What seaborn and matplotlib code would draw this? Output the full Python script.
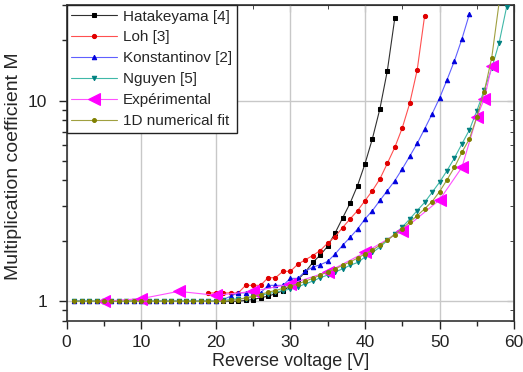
import numpy as np
import pandas as pd
import seaborn as sns
import matplotlib.pyplot as plt
from matplotlib.ticker import LogLocator, NullFormatter, FixedLocator, FixedFormatter

# Data
hatakeyama_v = list(range(1, 45))
hatakeyama_m = [1.0] * 23 + [1.01, 1.02, 1.04, 1.06, 1.09, 1.13, 1.19, 1.28, 1.40, 1.56,
                             1.70, 1.88, 2.19, 2.6, 3.08, 3.77, 4.84, 6.47, 9.1, 14.1, 25.8]

loh_v = list(range(19, 49))
loh_m = [1.10, 1.10, 1.10, 1.10, 1.10, 1.20, 1.20, 1.20, 1.31, 1.31, 1.41, 1.41, 1.53,
         1.61, 1.69, 1.79, 1.95, 2.1, 2.33, 2.57, 2.83, 3.17, 3.56, 4.07, 4.87, 5.85,
         7.31, 9.7, 14.2, 26.5]

konst_v = list(range(1, 55))
konst_m = [1.0] * 20 + [1.02, 1.06, 1.10, 1.10, 1.10, 1.10, 1.20, 1.20, 1.20, 1.30, 1.30,
                        1.41, 1.48, 1.52, 1.58, 1.72, 1.90, 2.08, 2.29, 2.57, 2.83, 3.18,
                        3.56, 3.99, 4.57, 5.28, 6.12, 7.23, 8.59, 10.3, 12.7, 15.8, 20.3, 27.0]

nguyen_v = list(range(1, 60))
nguyen_m = [1.0] * 20 + [1.01, 1.02, 1.03, 1.03, 1.05, 1.07, 1.09, 1.11, 1.13, 1.15, 1.18,
                         1.22, 1.26, 1.31, 1.35, 1.40, 1.45, 1.51, 1.56, 1.66, 1.75, 1.86,
                         2.01, 2.17, 2.34, 2.57, 2.83, 3.11, 3.49, 3.92, 4.48, 5.18, 6.09,
                         7.14, 8.9, 11.3, 14.5, 19.5, 29.4]

exp_v = [5, 10, 15, 20, 25, 30, 35, 40, 45, 50, 53, 55, 56, 57]
exp_m = [1.0, 1.03, 1.12, 1.07, 1.12, 1.22, 1.40, 1.75, 2.25, 3.2, 4.65, 8.3, 10.2, 14.9]

fit_v = list(range(1, 59))
fit_m = [1.0] * 21 + [1.01, 1.02, 1.04, 1.06, 1.08, 1.11, 1.13, 1.16, 1.19, 1.22, 1.26,
                      1.30, 1.35, 1.40, 1.45, 1.51, 1.57, 1.64, 1.72, 1.80, 1.90, 2.02,
                      2.15, 2.30, 2.48, 2.67, 2.89, 3.14, 3.52, 4.03, 4.65, 5.53, 6.44,
                      8.3, 11.1, 16.4, 31.0]

sns.set_style('ticks')
plt.rcParams['font.family'] = ['Liberation Sans', 'DejaVu Sans']

fig = plt.figure(figsize=(5.23, 3.72), dpi=100)
ax = fig.add_axes([0.1275, 0.138, 0.8555, 0.8486])

series = [
    ("Hatakeyama [4]", hatakeyama_v, hatakeyama_m, '#303030', '#000000', 's', 2.8),
    ("Loh [3]", loh_v, loh_m, '#ff5050', '#e00000', 'o', 3),
    ("Konstantinov [2]", konst_v, konst_m, '#6060ff', '#0000dd', '^', 3.2),
    ("Nguyen [5]", nguyen_v, nguyen_m, '#40b8a8', '#008080', 'v', 3.2),
    ("Expérimental", exp_v, exp_m, '#ff50ff', '#ff00ff', '<', 8),
    ("1D numerical fit", fit_v, fit_m, '#a0a040', '#808000', 'o', 2.8),
]

for label, xv, yv, lc, mc, mk, ms in series:
    sns.lineplot(x=xv, y=yv, ax=ax, color=lc, marker=mk, markersize=ms,
                 markerfacecolor=mc, markeredgecolor=mc, linewidth=0.8,
                 label=label, zorder=3)

ax.set_yscale('log')
ax.set_xlim(0, 60)
ax.set_ylim(0.8, 30)

ax.xaxis.set_major_locator(FixedLocator([0, 10, 20, 30, 40, 50, 60]))
ax.xaxis.set_minor_locator(FixedLocator([5, 15, 25, 35, 45, 55]))
ax.yaxis.set_major_locator(FixedLocator([1, 10]))
ax.yaxis.set_major_formatter(FixedFormatter(['1', '10']))
ax.yaxis.set_minor_locator(LogLocator(base=10, subs=np.arange(2, 10)))
ax.yaxis.set_minor_formatter(NullFormatter())

ax.grid(True, which='major', color='#c8c8c8', linewidth=1.0, zorder=0)
ax.tick_params(which='major', direction='out', length=6, width=1, labelsize=12.5,
               colors='#222222', pad=4)
ax.tick_params(axis='y', which='major', pad=8)
ax.tick_params(which='minor', direction='out', length=3.5, width=1)
for s in ax.spines.values():
    s.set_linewidth(1.2)
    s.set_color('#333333')

# inward ticks on top and right
top = ax.secondary_xaxis('top')
top.xaxis.set_major_locator(FixedLocator([0, 10, 20, 30, 40, 50, 60]))
top.xaxis.set_minor_locator(FixedLocator([5, 15, 25, 35, 45, 55]))
top.tick_params(which='major', direction='in', length=5, labeltop=False)
top.tick_params(which='minor', direction='in', length=3)
right = ax.secondary_yaxis('right')
right.yaxis.set_major_locator(FixedLocator([1, 10]))
right.yaxis.set_minor_locator(LogLocator(base=10, subs=np.arange(2, 10)))
right.yaxis.set_minor_formatter(NullFormatter())
right.tick_params(which='major', direction='in', length=5, labelright=False)
right.tick_params(which='minor', direction='in', length=3)

ax.set_xlabel('Reverse voltage [V]', fontsize=13, va='bottom')
ax.xaxis.set_label_coords(0.5, -0.157)
ax.set_ylabel('Multiplication coefficient M', fontsize=14)
ax.yaxis.set_label_coords(-0.1, 0.49)

leg = ax.legend(loc='upper left', borderaxespad=0, fontsize=11, frameon=True,
                fancybox=False, edgecolor='#222222', framealpha=1,
                handlelength=3, labelspacing=0.45, borderpad=0.3, handletextpad=0.4)
leg.get_frame().set_linewidth(1.0)

fig.savefig('out.png', dpi=100)
